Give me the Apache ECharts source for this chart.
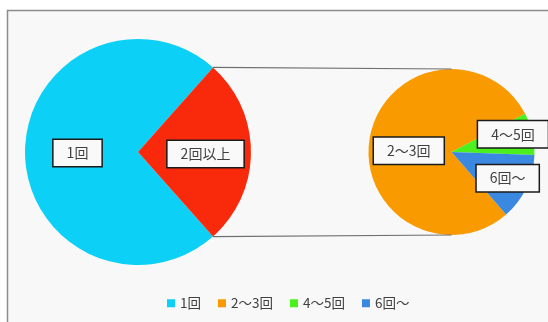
<!DOCTYPE html>
<html>
<head>
<meta charset="utf-8">
<script src="https://cdn.jsdelivr.net/npm/echarts@6/dist/echarts.min.js"></script>
<style>
  html, body { margin: 0; padding: 0; background: #ffffff; }
  #chart { width: 548px; height: 322px; }
</style>
</head>
<body>
<div id="chart"></div>
<script>
// Main pie: single visits vs. two or more
const mainNames = ['1回', '2回以上'];
const mainValues = [73.1, 26.9];
// Breakdown of "2回以上" shown in the secondary pie
const subNames = ['2〜3回', '4〜5回', '6回〜'];
const subValues = [21.2, 2.2, 3.5];
const legendNames = ['1回', '2〜3回', '4〜5回', '6回〜'];

const mainColors = ['#0dd0f7', '#f92a0b'];
const subColors = ['#f99b00', '#4bf01e', '#3a88e0'];

// layout of the two pies (pixels)
const mainCenter = [138, 152], mainR = 113;
const subCenter = [451.5, 152], subR = 83;
// rotation of the secondary pie so the small slices sit on the right
const subOffsetDeg = 27.4;

// small label nudges (dx, dy) from the library's inside position
const mainNudge = [[-1, 1], [8, 2]];
const subNudge = [[1, 7], [18, -8], [16, 7]];

const total = mainValues.reduce((a, b) => a + b, 0);
const restHalfDeg = 180 * mainValues[1] / total;
const mainStart = restHalfDeg + 360 * mainValues[0] / total;
const subTotal = subValues.reduce((a, b) => a + b, 0);
const subStart = subOffsetDeg + 360 * subValues[0] / subTotal;

// connector lines from the split slice's edges to the secondary pie
const rad = restHalfDeg * Math.PI / 180;
const topStart = [mainCenter[0] + mainR * Math.cos(rad), mainCenter[1] - mainR * Math.sin(rad)];
const botStart = [mainCenter[0] + mainR * Math.cos(rad), mainCenter[1] + mainR * Math.sin(rad)];
const topEnd = [subCenter[0], subCenter[1] - subR];
const botEnd = [subCenter[0], subCenter[1] + subR];

const labelStyle = {
  show: true,
  position: 'inside',
  formatter: '{b}',
  color: '#404040',
  fontSize: 14,
  fontFamily: '"Noto Sans CJK JP", sans-serif',
  backgroundColor: '#f9f9f9',
  borderColor: '#1a1a1a',
  borderWidth: 1.5,
  padding: [6, 13]
};

const chart = echarts.init(document.getElementById('chart'), null, { renderer: 'canvas' });
chart.setOption({
  animation: false,
  backgroundColor: '#ffffff',
  graphic: [
    {
      type: 'rect', z: -10,
      shape: { x: 7.5, y: 10.5, width: 600, height: 400 },
      style: { fill: '#f8f8f8', stroke: '#8c8c8c', lineWidth: 1.5 }
    },
    {
      type: 'line', z: 10,
      shape: { x1: topStart[0], y1: topStart[1], x2: topEnd[0], y2: topEnd[1] },
      style: { stroke: '#707070', lineWidth: 1.2 }
    },
    {
      type: 'line', z: 10,
      shape: { x1: botStart[0], y1: botStart[1], x2: botEnd[0], y2: botEnd[1] },
      style: { stroke: '#707070', lineWidth: 1.2 }
    }
  ],
  legend: {
    data: legendNames,
    bottom: 7,
    left: 162,
    icon: 'rect',
    itemWidth: 8,
    itemHeight: 8,
    itemGap: 17,
    textStyle: { color: '#404040', fontSize: 13.5, fontFamily: '"Noto Sans CJK JP", sans-serif' }
  },
  series: [
    {
      type: 'pie',
      center: mainCenter,
      radius: mainR,
      startAngle: mainStart,
      clockwise: true,
      avoidLabelOverlap: false,
      emphasis: { disabled: true },
      label: labelStyle,
      labelLine: { show: false },
      labelLayout: p => ({ dx: mainNudge[p.dataIndex][0], dy: mainNudge[p.dataIndex][1] }),
      data: mainNames.map((n, i) => ({ name: n, value: mainValues[i], itemStyle: { color: mainColors[i] } }))
    },
    {
      type: 'pie',
      center: subCenter,
      radius: subR,
      startAngle: subStart,
      clockwise: true,
      avoidLabelOverlap: false,
      emphasis: { disabled: true },
      label: labelStyle,
      labelLine: { show: false },
      labelLayout: p => ({ dx: subNudge[p.dataIndex][0], dy: subNudge[p.dataIndex][1] }),
      data: subNames.map((n, i) => ({ name: n, value: subValues[i], itemStyle: { color: subColors[i] } }))
    }
  ]
});
</script>
</body>
</html>
